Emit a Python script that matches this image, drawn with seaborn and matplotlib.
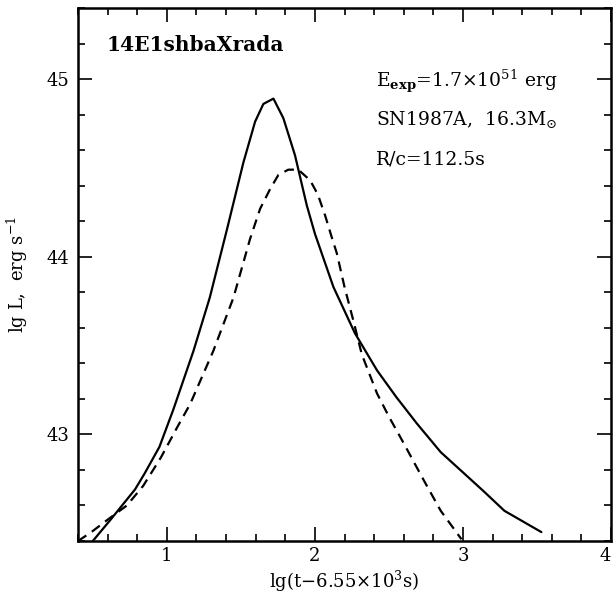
import matplotlib
matplotlib.use("Agg")
import matplotlib.pyplot as plt
import seaborn as sns
import pandas as pd
from matplotlib.ticker import MultipleLocator

# Solid curve
solid_x = [0.50, 0.62, 0.785, 0.85, 0.95, 1.044, 1.18, 1.29, 1.405, 1.517, 1.596, 1.652,
           1.72, 1.787, 1.866, 1.945, 2.00, 2.125, 2.27, 2.42, 2.55, 2.69, 2.85, 3.14, 3.28, 3.53]
solid_y = [42.40, 42.52, 42.69, 42.78, 42.93, 43.14, 43.47, 43.77, 44.15, 44.53, 44.76, 44.86,
           44.89, 44.78, 44.57, 44.29, 44.13, 43.83, 43.57, 43.36, 43.21, 43.06, 42.90, 42.68, 42.57, 42.45]

# Dashed curve
dashed_x = [0.40, 0.49, 0.60, 0.73, 0.84, 0.96, 1.07, 1.157, 1.314, 1.45, 1.562, 1.63, 1.697,
            1.753, 1.82, 1.888, 1.968, 2.02, 2.07, 2.11, 2.148, 2.20, 2.26, 2.317, 2.42, 2.50,
            2.60, 2.73, 2.85, 2.99]
dashed_y = [42.40, 42.45, 42.52, 42.60, 42.71, 42.87, 43.04, 43.17, 43.47, 43.77, 44.10, 44.27, 44.38,
            44.46, 44.49, 44.49, 44.43, 44.35, 44.23, 44.12, 44.02, 43.83, 43.64, 43.45, 43.23, 43.10,
            42.95, 42.75, 42.57, 42.41]

x_ticks = [1, 2, 3, 4]
y_ticks = [43, 44, 45]

sns.set_style("ticks")
plt.rcParams['font.family'] = ['DejaVu Serif', 'DejaVu Sans']
plt.rcParams['mathtext.fontset'] = 'dejavuserif'
plt.rcParams['text.color'] = 'black'
plt.rcParams['axes.labelcolor'] = 'black'

fig = plt.figure(figsize=(6.15, 5.98), dpi=100)
ax = fig.add_axes([78/615, 1 - 541/598, 533/615, 533/598])

df_s = pd.DataFrame({"x": solid_x, "y": solid_y})
df_d = pd.DataFrame({"x": dashed_x, "y": dashed_y})
sns.lineplot(data=df_s, x="x", y="y", ax=ax, color="black", lw=1.6, sort=False)
sns.lineplot(data=df_d, x="x", y="y", ax=ax, color="black", lw=1.6, sort=False,
             linestyle=(0, (4.5, 3.0)))

ax.set_xlim(0.4, 4.0)
ax.set_ylim(42.4, 45.4)
ax.set_xticks(x_ticks)
ax.set_yticks(y_ticks)
ax.set_xticklabels([str(t) for t in x_ticks])
ax.set_yticklabels([str(t) for t in y_ticks])
ax.get_xticklabels()[-1].set_horizontalalignment('right')
ax.xaxis.set_minor_locator(MultipleLocator(0.2))
ax.yaxis.set_minor_locator(MultipleLocator(0.2))
ax.tick_params(which='both', direction='in', top=True, right=True, colors='black',
               labelcolor='black', labelsize=13, width=1.2)
ax.tick_params(which='major', length=10)
ax.tick_params(which='minor', length=5)
ax.tick_params(axis='x', which='major', pad=4)
ax.tick_params(axis='y', which='major', pad=6)
for s in ax.spines.values():
    s.set_linewidth(1.8)
    s.set_color('black')

ax.set_xlabel(r"lg(t$-$6.55$\times$10$^3$s)", fontsize=13, labelpad=3, color='black')
ax.set_ylabel(r"lg L,  erg s$^{-1}$", fontsize=13, labelpad=12, color='black')

ax.text(0.053, 0.93, "14E1shbaXrada", transform=ax.transAxes, fontsize=14.5,
        fontweight='bold', ha='left', va='center', color='black')
ax.text(0.559, 0.862, r"E$_{\mathbf{exp}}$=1.7$\times$10$^{51}$ erg", transform=ax.transAxes,
        fontsize=13.5, ha='left', va='center', color='black')
ax.text(0.559, 0.79, r"SN1987A,  16.3M$_{\odot}$", transform=ax.transAxes,
        fontsize=13.5, ha='left', va='center', color='black')
ax.text(0.559, 0.715, "R/c=112.5s", transform=ax.transAxes,
        fontsize=13.5, ha='left', va='center', color='black')

if ax.get_legend():
    ax.get_legend().remove()

fig.savefig("out.png", dpi=100)
